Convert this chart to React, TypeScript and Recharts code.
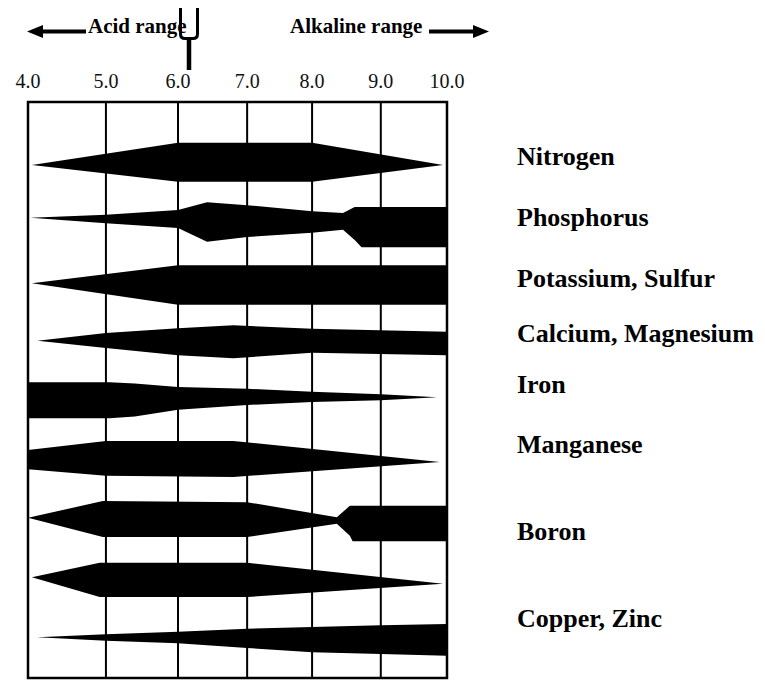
import React from 'react';
import { ComposedChart, Area, XAxis, YAxis, CartesianGrid, ReferenceArea } from 'recharts';

// pH axis ticks and where each grid line falls across the plot width (the printed chart is not evenly spaced)
const phTicks = [4, 5, 6, 7, 8, 9, 10];
const gridFractions = [0, 0.186, 0.358, 0.523, 0.678, 0.842, 1];

// Each band: [pH, upper edge, lower edge] in chart rows (0 = top of box, 96 = bottom)
type Pt = [number, number, number];
const nitrogen: Pt[] = [[4.05, 10.5, 10.5], [6.0, 6.8, 13.3], [8.0, 6.8, 13.3], [9.94, 10.5, 10.5]];
const phosphorus: Pt[] = [
  [4.03, 19.3, 19.3], [5.0, 18.8, 20.2], [6.0, 18.0, 21.0], [6.42, 16.7, 23.3], [7.0, 17.2, 22.5],
  [8.0, 18.2, 21.8], [8.45, 18.5, 21.3], [8.62, 17.5, 23.0], [8.72, 17.5, 24.2], [10.0, 17.5, 24.2],
];
const potassium: Pt[] = [[4.05, 30.2, 30.2], [6.0, 27.2, 33.8], [10.0, 27.2, 33.8]];
const calcium: Pt[] = [[4.12, 39.8, 39.8], [5.0, 38.5, 41.0], [6.0, 37.7, 42.2], [6.8, 37.2, 42.7], [8.0, 37.8, 41.8], [10.0, 38.3, 42.2]];
const iron: Pt[] = [
  [4.0, 46.7, 52.7], [5.05, 46.7, 52.7], [5.4, 46.9, 52.4], [6.0, 47.5, 51.3], [7.0, 47.8, 50.5],
  [8.0, 48.3, 50.0], [9.0, 48.7, 49.7], [9.85, 49.2, 49.2],
];
const manganese: Pt[] = [[4.0, 58.0, 61.2], [5.0, 56.5, 62.3], [6.8, 56.5, 62.5], [9.89, 60.0, 60.0]];
const boron: Pt[] = [[4.0, 69.3, 69.3], [4.96, 66.5, 72.5], [7.0, 66.7, 72.5], [8.36, 69.2, 70.3], [8.55, 67.3, 72.3], [8.59, 67.3, 73.2], [10.0, 67.3, 73.2]];
const copperZinc: Pt[] = [[4.05, 79.2, 79.2], [4.92, 76.8, 82.5], [7.0, 76.8, 82.5], [9.94, 80.3, 80.3]];
const molybdenum: Pt[] = [[4.12, 89.2, 89.2], [5.0, 88.7, 89.8], [6.0, 88.3, 90.2], [7.0, 87.8, 91.0], [8.0, 87.5, 91.7], [9.0, 87.2, 92.0], [10.0, 87.0, 92.3]];

const bands: Pt[][] = [nitrogen, phosphorus, potassium, calcium, iron, manganese, boron, copperZinc, molybdenum];

// Right-hand nutrient labels and the row each is printed at
const nutrientLabels = ['Nitrogen', 'Phosphorus', 'Potassium, Sulfur', 'Calcium, Magnesium', 'Iron', 'Manganese', 'Boron', 'Copper, Zinc'];
const labelRows = [9.0, 19.1, 29.3, 38.5, 47.0, 57.0, 71.5, 86.0];

const SERIF = "'Liberation Serif', 'Times New Roman', Times, serif";

function makePiecewiseScale(knots: number[], fracs: number[], dom: number[] = [knots[0], knots[knots.length - 1]], rng: number[] = [0, 1]): any {
  let d = dom.slice();
  let r = rng.slice();
  const frac = (v: number) => {
    let i = 0;
    while (i < knots.length - 2 && v > knots[i + 1]) i++;
    const t = (v - knots[i]) / (knots[i + 1] - knots[i]);
    return fracs[i] + t * (fracs[i + 1] - fracs[i]);
  };
  const s: any = (v: number) => r[0] + frac(v) * (r[r.length - 1] - r[0]);
  s.domain = (nd?: number[]) => {
    if (nd === undefined) return d.slice();
    d = nd.slice();
    return s;
  };
  s.range = (nr?: number[]) => {
    if (nr === undefined) return r.slice();
    r = nr.slice();
    return s;
  };
  s.copy = () => makePiecewiseScale(knots, fracs, d, r);
  s.ticks = () => knots.slice();
  s.tickFormat = () => (v: number) => String(v);
  s.nice = () => s;
  s.clamp = () => s;
  s.invert = (px: number) => {
    const f = (px - r[0]) / (r[r.length - 1] - r[0]);
    let i = 0;
    while (i < fracs.length - 2 && f > fracs[i + 1]) i++;
    const t = (f - fracs[i]) / (fracs[i + 1] - fracs[i]);
    return knots[i] + t * (knots[i + 1] - knots[i]);
  };
  return s;
}

const phScale = makePiecewiseScale(phTicks, gridFractions);

const toData = (pts: Pt[]) => pts.map(([ph, top, bottom]) => ({ ph, band: [top, bottom] }));

// invisible anchor series for the label axis (one point per label row)
const labelData = labelRows.map((row) => ({ ph: 4, row }));

const labelFor = (v: number) => {
  let best = 0;
  labelRows.forEach((r, i) => {
    if (Math.abs(r - v) < Math.abs(labelRows[best] - v)) best = i;
  });
  return nutrientLabels[best];
};

export default function App() {
  return (
    <div style={{ position: 'absolute', left: 0, top: 0, width: 765, height: 680, background: '#fff' }}>
      <ComposedChart width={765} height={680} margin={{ top: 72, right: 8, bottom: 2, left: 28 }}>
        <CartesianGrid horizontal={false} stroke="#000" strokeWidth={2} strokeDasharray="" />
        <XAxis
          xAxisId={0}
          type="number"
          dataKey="ph"
          orientation="top"
          domain={[4, 10]}
          ticks={phTicks}
          scale={phScale}
          allowDataOverflow
          interval={0}
          height={30}
          axisLine={false}
          tickLine={false}
          tickSize={0}
          tickMargin={14}
          tickFormatter={(v: number) => v.toFixed(1)}
          tick={{ fill: '#111', fontSize: 20, fontFamily: SERIF }}
        />
        <YAxis yAxisId={0} type="number" domain={[0, 96]} reversed hide allowDataOverflow />
        <YAxis
          yAxisId="lab"
          orientation="right"
          type="number"
          domain={[0, 96]}
          allowDataOverflow
          reversed
          ticks={labelRows}
          interval={0}
          width={310}
          axisLine={false}
          tickLine={false}
          tickSize={0}
          tickMargin={70}
          tickFormatter={labelFor}
          tick={{ fill: '#000', fontSize: 26, fontWeight: 'bold', fontFamily: SERIF }}
        />
        {bands.map((b, i) => (
          <Area
            key={i}
            xAxisId={0}
            yAxisId={0}
            data={toData(b)}
            dataKey="band"
            type="linear"
            stroke="none"
            fill="#000"
            fillOpacity={1}
            dot={false}
            activeDot={false}
            isAnimationActive={false}
          />
        ))}
        <Area
          xAxisId={0}
          yAxisId="lab"
          data={labelData}
          dataKey="row"
          stroke="none"
          fill="none"
          fillOpacity={0}
          dot={false}
          activeDot={false}
          isAnimationActive={false}
          legendType="none"
        />
        <ReferenceArea
          xAxisId={0}
          yAxisId={0}
          x1={4}
          x2={10}
          y1={0}
          y2={96}
          fill="none"
          fillOpacity={0}
          stroke="#000"
          strokeWidth={2.5}
          ifOverflow="visible"
        />
      </ComposedChart>
      <svg width={765} height={110} style={{ position: 'absolute', left: 0, top: 0, pointerEvents: 'none' }}>
        <polygon points="27,31.5 43,25 43,38" fill="#000" />
        <line x1={42} y1={31.5} x2={86} y2={31.5} stroke="#000" strokeWidth={4} />
        <text x={88} y={33} fontFamily={SERIF} fontWeight="bold" fontSize={21} fill="#000">Acid range</text>
        <path d="M180.5,8 L180.5,34 Q180.5,38.5 185,38.5 L193,38.5 Q197.5,38.5 197.5,34 L197.5,8" stroke="#000" strokeWidth={3} fill="none" />
        <line x1={189} y1={38} x2={189} y2={70} stroke="#000" strokeWidth={4.5} />
        <text x={290} y={33} fontFamily={SERIF} fontWeight="bold" fontSize={21} fill="#000">Alkaline range</text>
        <line x1={429} y1={31.5} x2={474} y2={31.5} stroke="#000" strokeWidth={4} />
        <polygon points="489,31.5 473,25 473,38" fill="#000" />
      </svg>
    </div>
  );
}
